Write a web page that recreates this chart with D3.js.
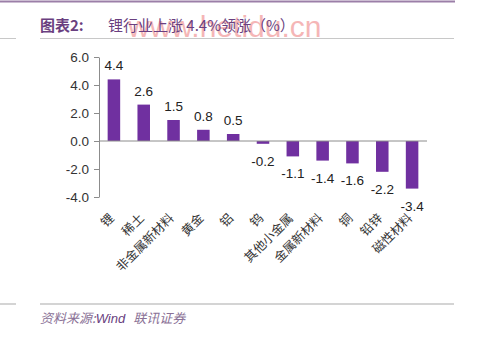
<!DOCTYPE html>
<html>
<head>
<meta charset="utf-8">
<script src="https://cdn.jsdelivr.net/npm/d3@7"></script>
<style>
  html, body { margin: 0; padding: 0; background: #fff; }
  svg { display: block; }
</style>
</head>
<body>
<script>
// Monthly change by metals sub-sector (%)
const categories = ["锂", "稀土", "非金属新材料", "黄金", "铝", "钨", "其他小金属", "金属新材料", "铜", "铅锌", "磁性材料"];
const values = [4.4, 2.6, 1.5, 0.8, 0.5, -0.2, -1.1, -1.4, -1.6, -2.2, -3.4];
const yTicks = [-4, -2, 0, 2, 4, 6];

const W = 499, H = 343;
const svg = d3.select("body").append("svg").attr("width", W).attr("height", H);

const sans = "'Liberation Sans', 'Noto Sans CJK SC', sans-serif";
const cjk = "'Noto Sans CJK SC', sans-serif";
// one decimal, plain hyphen for negatives
const fmt = d => d.toFixed(1);

// Frame rules
svg.append("line").attr("x1", 0).attr("x2", 455).attr("y1", 1.5).attr("y2", 1.5)
  .attr("stroke", "#9b7fa8").attr("stroke-width", 2);
[[0, 16], [40, 454]].forEach(([a, b]) => {
  svg.append("line").attr("x1", a).attr("x2", b).attr("y1", 38.5).attr("y2", 38.5)
    .attr("stroke", "#c8c8c8").attr("stroke-width", 1);
  svg.append("line").attr("x1", a).attr("x2", b).attr("y1", 304).attr("y2", 304)
    .attr("stroke", "#d4d4d4").attr("stroke-width", 2);
});

// Watermark
svg.append("text").attr("x", 128).attr("y", 37)
  .attr("font-family", sans).attr("font-size", 30).attr("fill", "#ee7c7c").attr("opacity", 0.55)
  .text("www.hetidu.cn");

// Title
const title = svg.append("text").attr("x", 40).attr("y", 31)
  .attr("font-family", cjk).attr("font-size", 15).attr("fill", "#6a3f80");
title.append("tspan").attr("font-weight", "bold").text("图表2:");
title.append("tspan").attr("x", 108).text("锂行业上涨 4.4%领涨（%）");

// Scales
const x = d3.scaleBand().domain(categories).range([99, 427]).paddingInner(0.58).paddingOuter(0.29);
const y = d3.scaleLinear().domain([-4, 6]).range([197, 57]);

// Y axis
const yAxis = svg.append("g").attr("transform", "translate(99,0)")
  .call(d3.axisLeft(y).tickValues(yTicks).tickFormat(fmt).tickSize(5).tickSizeOuter(0));
yAxis.select(".domain").attr("stroke", "#8c8c8c");
yAxis.selectAll(".tick line").attr("stroke", "#8c8c8c");
yAxis.selectAll(".tick text").attr("x", -10)
  .attr("font-family", sans).attr("font-size", 13.5).attr("fill", "#333");

// Bars
svg.append("g").selectAll("rect").data(values).join("rect")
  .attr("x", (d, i) => x(categories[i]))
  .attr("width", x.bandwidth())
  .attr("y", d => y(Math.max(0, d)))
  .attr("height", d => Math.abs(y(d) - y(0)))
  .attr("fill", "#7030a0");

// Zero line
svg.append("line").attr("x1", 99).attr("x2", 427).attr("y1", y(0)).attr("y2", y(0))
  .attr("stroke", "#8c8c8c").attr("stroke-width", 1);

// Value labels
svg.append("g").selectAll("text").data(values).join("text")
  .attr("x", (d, i) => x(categories[i]) + x.bandwidth() / 2)
  .attr("y", d => d >= 0 ? y(d) - 9 : y(d) + 22)
  .attr("text-anchor", "middle")
  .attr("font-family", sans).attr("font-size", 13.5).attr("fill", "#222")
  .text(fmt);

// Category labels, rotated
svg.append("g").selectAll("text").data(categories).join("text")
  .attr("transform", d => `translate(${x(d) + x.bandwidth() / 2 + 1},${219}) rotate(-45)`)
  .attr("text-anchor", "end")
  .attr("font-family", cjk).attr("font-size", 12.5).attr("fill", "#333")
  .text(d => d);

// Source note
const src = svg.append("text").attr("x", 40).attr("y", 323)
  .attr("font-size", 13).attr("font-style", "italic").attr("fill", "#8a7196");
src.append("tspan").attr("font-family", cjk).text("资料来源:");
src.append("tspan").attr("font-family", sans).attr("fill", "#6a3f80").text("Wind");
src.append("tspan").attr("font-family", cjk).attr("dx", 8).text("联讯证券");
</script>
</body>
</html>
